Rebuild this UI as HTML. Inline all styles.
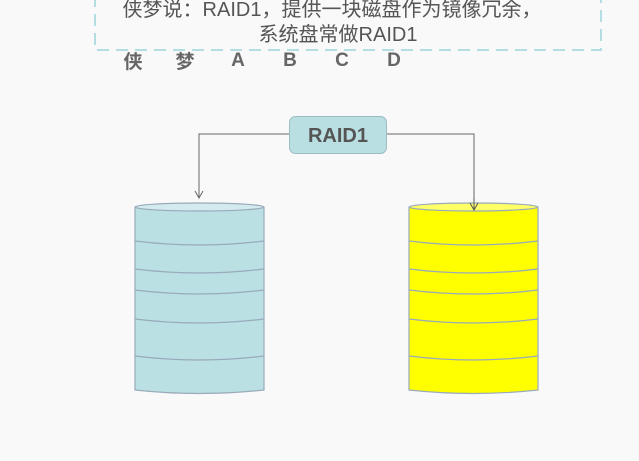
<!DOCTYPE html>
<html><head><meta charset="utf-8"><style>
html,body{margin:0;padding:0;background:#f9f9f9;}
body{width:639px;height:461px;overflow:hidden;position:relative;font-family:"Liberation Sans","Noto Sans CJK SC",sans-serif;}
</style></head><body>
<svg width="639" height="461" viewBox="0 0 639 461" xmlns="http://www.w3.org/2000/svg" style="position:absolute;left:0;top:0">
<rect x="0" y="0" width="639" height="461" fill="#f9f9f9"/>
<path d="M95 -5 V50 H601 V-5" fill="none" stroke="#b4dde2" stroke-width="2" stroke-dasharray="12,7"/>
<text x="332" y="16" font-size="20" fill="#555" text-anchor="middle" font-family="Liberation Sans,Noto Sans CJK SC,sans-serif">侠梦说：RAID1，提供一块磁盘作为镜像冗余，</text>
<text x="338" y="41" font-size="20" fill="#555" text-anchor="middle" font-family="Liberation Sans,Noto Sans CJK SC,sans-serif">系统盘常做RAID1</text>
<g font-size="19" font-weight="bold" fill="#666" text-anchor="middle" font-family="Liberation Sans,Noto Sans CJK SC,sans-serif">
<text x="133" y="68">侠</text><text x="185" y="68">梦</text><text x="238" y="66">A</text><text x="290" y="66">B</text><text x="342" y="66">C</text><text x="394" y="66">D</text>
</g>
<g fill="none" stroke="#666" stroke-width="1">
<path d="M289 134 H199 V198"/><path d="M195 191 L199 198 L203 191"/>
<path d="M386 134 H474 V210"/>
</g>
<rect x="289.5" y="116.5" width="97" height="37" rx="6" fill="#b9dfe3" stroke="#9bbcc2"/>
<text x="338" y="142" font-size="20" font-weight="bold" fill="#555" text-anchor="middle">RAID1</text>
<g stroke="#9ab" stroke-width="1.2">
<path d="M135 207 V390 Q199.5 397 264 390 V207" fill="#bae0e3"/>
<ellipse cx="199.5" cy="207" rx="64.5" ry="4" fill="#d3ebee"/>
<g fill="none"><path d="M135 241 Q199.5 249 264 241"/><path d="M135 269 Q199.5 277 264 269"/><path d="M135 290 Q199.5 298 264 290"/><path d="M135 319 Q199.5 327 264 319"/><path d="M135 356 Q199.5 364 264 356"/></g>
<path d="M409 207 V390 Q473.5 397 538 390 V207" fill="#ffff00"/>
<ellipse cx="473.5" cy="207" rx="64.5" ry="4" fill="#ffff66"/>
<g fill="none"><path d="M409 241 Q473.5 249 538 241"/><path d="M409 269 Q473.5 277 538 269"/><path d="M409 290 Q473.5 298 538 290"/><path d="M409 319 Q473.5 327 538 319"/><path d="M409 356 Q473.5 364 538 356"/></g>
</g>
<path d="M474 198 V210" stroke="#555" fill="none"/>
<path d="M470 203 L474 210 L478 203" fill="none" stroke="#555"/>
</svg>
</body></html>
